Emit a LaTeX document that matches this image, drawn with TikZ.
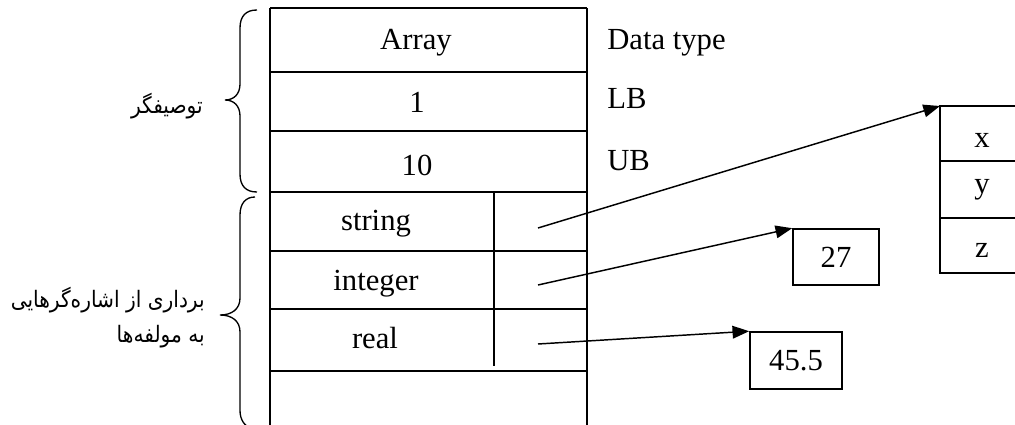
\documentclass[tikz,border=0pt]{standalone}
\usepackage{fontspec}
\setmainfont{Liberation Serif}
\newfontfamily\arabicfont[Script=Arabic]{DejaVu Sans}
\TeXXeTstate=1
\usetikzlibrary{arrows.meta}
\newcommand{\fanarrow}[1]{\scalebox{0.89}[1]{#1}}
\tikzset{
  tline/.style={line width=1.4pt},
  brc/.style={line width=1pt},
  celltxt/.style={font=\fontsize{23}{27}\selectfont, inner sep=0pt, anchor=base},
  sidetxt/.style={font=\fontsize{23}{27}\selectfont, inner sep=0pt, anchor=base west},
  fatxt/.style={font=\arabicfont\fontsize{17}{26}\selectfont, inner sep=0pt, anchor=base east},
  valbox/.style={draw, line width=1.2pt, inner sep=0pt, font=\fontsize{23}{27}\selectfont},
  ptr/.style={line width=1.1pt, -{Triangle[length=12.5pt,width=9.5pt]}}
}
\begin{document}
\begin{tikzpicture}[x=0.75pt,y=-0.75pt]
\useasboundingbox (0,0) rectangle (1015,425);
\clip (0,0) rectangle (1015,425);
% main table
\draw[tline] (270,8) -- (270,440);
\draw[tline] (587,8) -- (587,440);
\foreach \yy in {8,72,131,192,251,309,371}
  \draw[tline] (270,\yy) -- (587,\yy);
\draw[tline] (494,192) -- (494,366);
% cell texts
\node[celltxt] (arr) at (416,49) {Array};
\node[celltxt] (lb) at (417,112) {1};
\node[celltxt] (ub) at (417,175) {10};
\node[celltxt] (str) at (376,230) {string};
\node[celltxt] (int) at (376,290) {integer};
\node[celltxt] (rea) at (375,348) {real};
% side labels
\node[sidetxt] (dt) at (607,49) {Data type};
\node[sidetxt] (lbl) at (607,108) {LB};
\node[sidetxt] (ubl) at (607,170) {UB};
% braces
\draw[brc] (257,10) .. controls (246,10) and (240,16) .. (240,28) -- (240,84)
  .. controls (240,94) and (234,100) .. (225,100)
  .. controls (234,100) and (240,106) .. (240,116) -- (240,174)
  .. controls (240,186) and (246,192) .. (257,192);
\draw[brc] (255,197) .. controls (246,197) and (240,203) .. (240,215) -- (240,298)
  .. controls (240,309) and (232,315) .. (220,315)
  .. controls (232,315) and (240,321) .. (240,332) -- (240,410)
  .. controls (240,420) and (244,425) .. (252,430);
% persian labels
\node[fatxt] (desc) at (203,113) {\fanarrow{\beginR توصیفگر\endR}};
\node[fatxt] (vec1) at (205,307) {\fanarrow{\beginR برداری از اشاره‌گرهایی\endR}};
\node[fatxt] (vec2) at (205,342) {\fanarrow{\beginR به مولفه‌ها\endR}};
% xyz record
\coordinate (rec) at (940,106);
\draw[line width=1.2pt] (1030,106) -- (rec) -- (940,273) -- (1030,273);
\draw[line width=1.2pt] (940,161) -- (1030,161);
\draw[line width=1.2pt] (940,218) -- (1030,218);
\node[celltxt] (fx) at (982,147) {x};
\node[celltxt] (fy) at (982,193) {y};
\node[celltxt] (fz) at (982,257) {z};
% value boxes
\node[valbox, minimum width=64.5pt, minimum height=42pt] (v27) at (836,257) {27};
\node[valbox, minimum width=69pt, minimum height=42.75pt] (v455) at (796,360.5) {45.5};
% pointers
\coordinate (p1) at (538,228);
\coordinate (p2) at (538,285);
\coordinate (p3) at (538,344);
\draw[ptr] (p1) -- (rec);
\draw[ptr] (p2) -- (v27.north west);
\draw[ptr] (p3) -- (v455.north west);
\end{tikzpicture}
\end{document}
